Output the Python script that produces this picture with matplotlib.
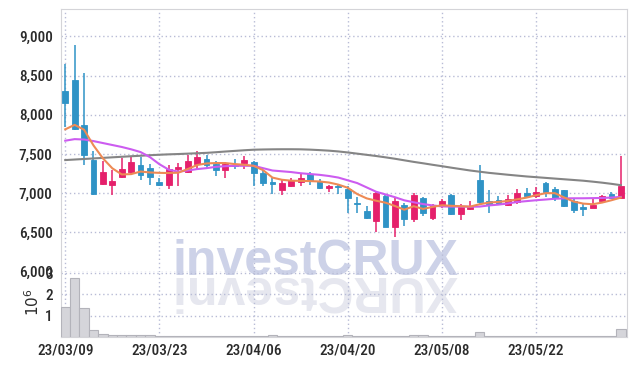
import numpy as np
import matplotlib
matplotlib.use("Agg")
import matplotlib.pyplot as plt

# ---------------------------------------------------------------------------
# Daily OHLC (KRW), 2023-03-09 .. 2023-06-05, one entry per trading day
# ---------------------------------------------------------------------------
opens = [8309, 8446, 7874, 7427, 7124, 7107, 7201, 7277, 7363, 7324,
         7145, 7103, 7303, 7269, 7367, 7440, 7372, 7295, 7359, 7385,
         7393, 7252, 7141, 7043, 7090, 7149, 7244, 7158, 7073, 7094,
         7060, 6881, 6774, 6647, 6966, 6570, 6851, 6676, 6936, 6689,
         6843, 6979, 6732, 6800, 7167, 6902, 6911, 6847, 6889, 7009,
         6966, 7133, 7052, 7039, 6902, 6826, 6817, 6902, 6988, 6936]
highs = [8651, 8894, 8535, 7533, 7405, 7295, 7448, 7474, 7461, 7372,
         7200, 7363, 7380, 7491, 7533, 7491, 7405, 7393, 7435, 7478,
         7410, 7295, 7200, 7167, 7200, 7244, 7277, 7184, 7111, 7100,
         7094, 6958, 6838, 7030, 6996, 6936, 6881, 7005, 6950, 6860,
         6923, 6985, 6860, 6902, 7363, 7039, 6966, 6979, 7052, 7065,
         7082, 7140, 7082, 7045, 6925, 6881, 6945, 6979, 7022, 7478]
lows = [7840, 7800, 7363, 6975, 7110, 6975, 7190, 7231, 7171, 7103,
        7092, 7052, 7094, 7252, 7308, 7308, 7218, 7193, 7308, 7308,
        7094, 7094, 6990, 6980, 7077, 7094, 7107, 7048, 7022, 6996,
        6753, 6753, 6670, 6500, 6570, 6440, 6583, 6638, 6711, 6663,
        6817, 6720, 6663, 6787, 6860, 6753, 6851, 6838, 6868, 6936,
        6940, 6953, 6902, 6830, 6753, 6711, 6810, 6881, 6930, 6925]
closes = [8146, 7820, 7482, 6996, 7273, 7158, 7312, 7401, 7235, 7213,
          7103, 7308, 7329, 7414, 7457, 7354, 7295, 7372, 7342, 7423,
          7252, 7133, 7124, 7137, 7167, 7197, 7158, 7073, 7094, 7082,
          6945, 6860, 6681, 7000, 6575, 6902, 6676, 6979, 6753, 6838,
          6902, 6732, 6826, 6826, 6894, 6868, 6860, 6923, 7009, 6966,
          7018, 7022, 6945, 6838, 6783, 6804, 6851, 6966, 6936, 7094]

# moving averages as drawn on the chart (include history before 03/09)
ma_short = [7815, 7872, 7810, 7610, 7445, 7318, 7240, 7244, 7277, 7265,
            7260, 7258, 7262, 7308, 7360, 7380, 7385, 7385, 7372, 7363,
            7350, 7295, 7200, 7172, 7160, 7158, 7155, 7150, 7137, 7110,
            7070, 6990, 6935, 6905, 6880, 6838, 6790, 6835, 6800, 6826,
            6847, 6840, 6835, 6830, 6860, 6881, 6890, 6902, 6923, 6945,
            6975, 7001, 7001, 6945, 6894, 6868, 6860, 6881, 6911, 6945]
ma_mid = [7670, 7690, 7685, 7665, 7640, 7615, 7590, 7560, 7525, 7460,
          7370, 7300, 7275, 7290, 7308, 7320, 7337, 7345, 7350, 7350,
          7350, 7320, 7290, 7280, 7270, 7255, 7245, 7235, 7220, 7200,
          7165, 7130, 7075, 7020, 6985, 6950, 6910, 6885, 6862, 6845,
          6832, 6830, 6830, 6828, 6830, 6845, 6855, 6870, 6889, 6900,
          6911, 6920, 6930, 6935, 6936, 6936, 6938, 6940, 6945, 6953]
ma_long = [7423, 7430, 7437, 7444, 7451, 7458, 7465, 7472, 7478, 7485,
           7491, 7496, 7500, 7505, 7510, 7515, 7523, 7532, 7540, 7548,
           7555, 7558, 7560, 7561, 7561, 7560, 7556, 7550, 7543, 7533,
           7520, 7505, 7490, 7475, 7458, 7440, 7420, 7400, 7382, 7363,
           7345, 7326, 7308, 7290, 7275, 7260, 7248, 7236, 7225, 7214,
           7205, 7196, 7187, 7178, 7169, 7160, 7148, 7135, 7120, 7103]

volumes = [1.39e6, 2.75e6, 1.34e6, 0.30e6, 0.13e6, 0.09e6, 0.09e6, 0.06e6, 0.08e6, 0.06e6,
           0.05e6, 0.05e6, 0.04e6, 0.05e6, 0.05e6, 0.04e6, 0.04e6, 0.04e6, 0.05e6, 0.04e6,
           0.05e6, 0.04e6, 0.07e6, 0.04e6, 0.04e6, 0.03e6, 0.04e6, 0.04e6, 0.03e6, 0.04e6,
           0.08e6, 0.05e6, 0.04e6, 0.05e6, 0.05e6, 0.04e6, 0.04e6, 0.06e6, 0.06e6, 0.04e6,
           0.03e6, 0.04e6, 0.03e6, 0.04e6, 0.22e6, 0.05e6, 0.04e6, 0.04e6, 0.03e6, 0.04e6,
           0.04e6, 0.03e6, 0.04e6, 0.05e6, 0.04e6, 0.04e6, 0.03e6, 0.04e6, 0.05e6, 0.36e6]

tick_pos = [0, 10, 20, 30, 40, 50]
tick_labels = ["23/03/09", "23/03/23", "23/04/06", "23/04/20", "23/05/08", "23/05/22"]

price_ticks = [6000, 6500, 7000, 7500, 8000, 8500, 9000]
vol_ticks = [1e6, 2e6, 3e6]

UP = "#e5206b"
DOWN = "#2f93c6"
GRID = "#b8bcd6"
SPINE = "#d4d4d8"
TXT = "#2b2b2b"

# condensed face for tick labels if available, Roboto otherwise
plt.rcParams['font.family'] = ['Noto Sans Condensed', 'Roboto Condensed', 'Roboto', 'DejaVu Sans']

fig = plt.figure(figsize=(6.34, 3.66), dpi=100)
W, H = 634.0, 366.0
ax = fig.add_axes([61 / W, 1 - 271.7 / H, 566 / W, (271.7 - 9.3) / H])
axv = fig.add_axes([61 / W, 1 - 336.7 / H, 566 / W, (336.7 - 271.7) / H], sharex=ax)
for a in (ax, axv):
    a.set_facecolor("none")

# watermark + its reflection, behind everything in the axes
fig.text(315 / W, 1 - 275 / H, "investCRUX", ha="center", va="baseline",
         fontsize=36, fontweight="bold", color="#cdd2e8",
         family=["Liberation Sans", "DejaVu Sans"], zorder=-1)
fig.text(315 / W, 1 - 266 / H, "XURCtsevni", ha="center", va="top", rotation=180,
         fontsize=36, fontweight="bold", color="#e6e7ef",
         family=["Liberation Sans", "DejaVu Sans"], zorder=-1)

x = np.arange(len(opens))
o = np.array(opens, dtype=float)
c = np.array(closes, dtype=float)
colors = [UP if cc >= oo else DOWN for oo, cc in zip(o, c)]

# wicks
ax.vlines(x, lows, highs, colors=colors, linewidth=1.1, zorder=3)
# bodies
bottoms = np.minimum(o, c)
heights = np.maximum(np.abs(c - o), 12)
ax.bar(x, heights, bottom=bottoms, width=0.62, color=colors, edgecolor=colors,
       linewidth=0.6, zorder=4)

# moving averages
ax.plot(x, ma_long, color="#858585", linewidth=1.5, zorder=5)
ax.plot(x, ma_mid, color="#cc5cf0", linewidth=1.5, zorder=5)
ax.plot(x, ma_short, color="#ee8a55", linewidth=1.5, zorder=6)

ax.set_xlim(-0.45, 59.65)
ax.set_ylim(6000, 9345)
ax.set_yticks(price_ticks)
ax.set_yticklabels([f"{v:,}" for v in price_ticks])
ax.grid(True, linestyle=(0, (1, 2)), color=GRID, linewidth=1)
ax.tick_params(axis="both", length=0, labelsize=11, colors=TXT, pad=6)
ax.tick_params(axis="x", labelbottom=False)
ax.spines["bottom"].set_visible(False)
for s in ("top", "left", "right"):
    ax.spines[s].set_color(SPINE)

# volume panel
axv.bar(x, volumes, width=1.0, color="#d5d5da", edgecolor="#b3b3ba", linewidth=0.8, zorder=3)
axv.set_ylim(0, 3.07e6)
axv.set_yticks(vol_ticks)
axv.set_yticklabels(["1", "2", "3"])
axv.set_xticks(tick_pos)
axv.set_xticklabels(tick_labels)
axv.grid(True, linestyle=(0, (1, 2)), color=GRID, linewidth=1)
axv.tick_params(axis="both", length=0, labelsize=11, colors=TXT, pad=6)
axv.tick_params(axis="x", pad=5)
axv.spines["top"].set_visible(False)
for s in ("bottom", "left", "right"):
    axv.spines[s].set_color(SPINE)
fig.text(33 / W, 1 - 302 / H, r"$10^6$", rotation=90, ha="center", va="center",
         fontsize=11, color=TXT)

for lbl in ax.get_yticklabels() + axv.get_yticklabels() + axv.get_xticklabels():
    lbl.set_fontweight("medium")

plt.savefig("out.png", dpi=100)
